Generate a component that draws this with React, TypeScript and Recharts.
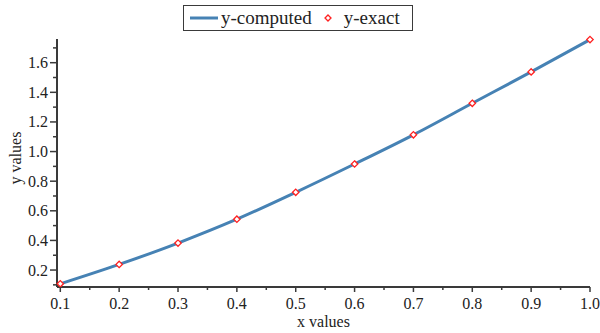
import {
  ComposedChart,
  Line,
  Scatter,
  XAxis,
  YAxis,
  Label,
} from 'recharts';

const xValues = [0.1, 0.2, 0.3, 0.4, 0.5, 0.6, 0.7, 0.8, 0.9, 1.0];
const yComputed = [0.107, 0.238, 0.382, 0.543, 0.725, 0.916, 1.113, 1.326, 1.538, 1.756];
const yExact = [0.107, 0.238, 0.382, 0.543, 0.725, 0.916, 1.113, 1.326, 1.538, 1.756];

const xMajorTicks = [0.1, 0.2, 0.3, 0.4, 0.5, 0.6, 0.7, 0.8, 0.9, 1.0];
const xMinorTicks = [0.15, 0.25, 0.35, 0.45, 0.55, 0.65, 0.75, 0.85, 0.95];
const yMajorTicks = [0.2, 0.4, 0.6, 0.8, 1.0, 1.2, 1.4, 1.6];
const yMinorTicks = [0.1, 0.3, 0.5, 0.7, 0.9, 1.1, 1.3, 1.5, 1.7];

const data = xValues.map((x, i) => ({ x, computed: yComputed[i], exact: yExact[i] }));

const serif = '"Liberation Serif", "DejaVu Serif", serif';
const axisColor = '#3a3a3a';
const lineColor = '#4682b4';
const pointColor = '#ff2020';

const isMajor = (ticks: number[], v: number) => ticks.some((t) => Math.abs(t - v) < 1e-9);

const XTick = ({ x, y, payload }: any) => {
  const major = isMajor(xMajorTicks, payload.value);
  return (
    <g>
      <line x1={x} x2={x} y1={y} y2={y + (major ? 5 : 3)} stroke={axisColor} strokeWidth={1.5} />
      {major && (
        <text x={x} y={y + 22} textAnchor="middle" style={{ fontFamily: serif }} fontSize={16} fill="#222">
          {payload.value.toFixed(1)}
        </text>
      )}
    </g>
  );
};

const YTick = ({ x, y, payload }: any) => {
  const major = isMajor(yMajorTicks, payload.value);
  return (
    <g>
      <line x1={x} x2={x - (major ? 7 : 4)} y1={y} y2={y} stroke={axisColor} strokeWidth={1.5} />
      {major && (
        <text x={x - 9} y={y + 5.5} textAnchor="end" style={{ fontFamily: serif }} fontSize={16} fill="#222">
          {payload.value.toFixed(1)}
        </text>
      )}
    </g>
  );
};

const Diamond = ({ cx, cy }: any) => (
  <polygon
    points={`${cx},${cy - 3.2} ${cx + 3.2},${cy} ${cx},${cy + 3.2} ${cx - 3.2},${cy}`}
    fill="#fff"
    stroke={pointColor}
    strokeWidth={1.3}
  />
);

// legend sits over the chart, recharts' own Legend would push the plot down
const LegendBox = () => (
  <div
    style={{
      position: 'absolute',
      left: 183,
      top: 5,
      display: 'flex',
      alignItems: 'center',
      height: 24,
      width: 228,
      border: `1px solid ${axisColor}`,
      background: '#fff',
      fontFamily: serif,
      fontSize: 19,
      color: '#222',
      boxSizing: 'content-box',
    }}
  >
    <svg width={36} height={24}>
      <line x1={6} x2={34} y1={12} y2={12} stroke={lineColor} strokeWidth={3} />
    </svg>
    <span style={{ marginLeft: 1 }}>y-computed</span>
    <svg width={24} height={24} style={{ marginLeft: 4 }}>
      <polygon points="12,9 15,12 12,15 9,12" fill="#fff" stroke={pointColor} strokeWidth={1.3} />
    </svg>
    <span style={{ marginLeft: 4 }}>y-exact</span>
  </div>
);

export default function App() {
  return (
    <div style={{ position: 'absolute', left: 0, top: 0, width: 600, height: 333, background: '#fff' }}>
      <ComposedChart width={600} height={333} data={data} margin={{ top: 39, right: 10, left: 0, bottom: 0 }}>
        <XAxis
          dataKey="x"
          type="number"
          domain={[0.0944, 1.0]}
          ticks={[...xMajorTicks, ...xMinorTicks].sort((a, b) => a - b)}
          interval={0}
          height={46}
          tickSize={0}
          tickMargin={0}
          tickLine={false}
          tick={<XTick />}
          axisLine={{ stroke: axisColor, strokeWidth: 2 }}
        >
          <Label
            content={({ viewBox }: any) => (
              <text
                x={viewBox.x + viewBox.width / 2}
                y={viewBox.y + 40}
                textAnchor="middle"
                style={{ fontFamily: serif }}
                fontSize={16}
                fill="#222"
              >
                x values
              </text>
            )}
          />
        </XAxis>
        <YAxis
          type="number"
          domain={[0.0855, 1.76]}
          ticks={[...yMajorTicks, ...yMinorTicks].sort((a, b) => a - b)}
          interval={0}
          width={57}
          tickSize={0}
          tickMargin={0}
          tickLine={false}
          tick={<YTick />}
          axisLine={{ stroke: axisColor, strokeWidth: 2 }}
        >
          <Label
            content={({ viewBox }: any) => {
              const cx = 15;
              const cy = viewBox.y + viewBox.height / 2 - 5;
              return (
                <text
                  x={cx}
                  y={cy}
                  transform={`rotate(-90 ${cx} ${cy})`}
                  textAnchor="middle"
                  dominantBaseline="central"
                  style={{ fontFamily: serif }}
                  fontSize={16}
                  fill="#222"
                >
                  y values
                </text>
              );
            }}
          />
        </YAxis>
        <Line
          type="monotone"
          dataKey="computed"
          name="y-computed"
          stroke={lineColor}
          strokeWidth={3}
          dot={false}
          activeDot={false}
          isAnimationActive={false}
        />
        <Scatter dataKey="exact" name="y-exact" shape={<Diamond />} isAnimationActive={false} />
      </ComposedChart>
      <LegendBox />
    </div>
  );
}
